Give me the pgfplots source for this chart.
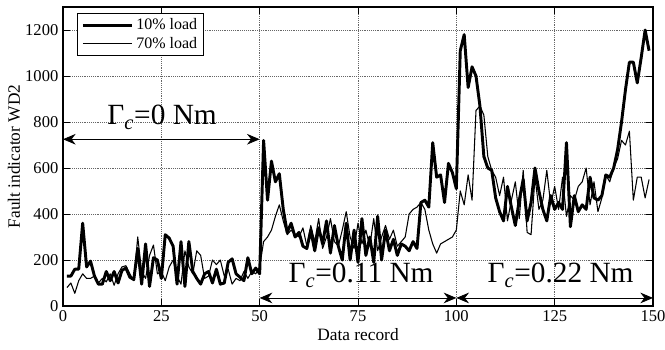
\documentclass[border=0pt]{standalone}
\usepackage{fontspec}
\setmainfont{Liberation Serif}
\usepackage{pgfplots}
\pgfplotsset{compat=1.18}
\usetikzlibrary{arrows.meta}
\begin{document}
\begin{tikzpicture}
\useasboundingbox (-47.25pt,-33pt) rectangle (451.5pt,229.5pt);
\begin{axis}[
 scale only axis, width=442.5pt, height=224.25pt,
 xmin=0,xmax=150,ymin=0,ymax=1300,
 xtick={0,25,...,150}, ytick={0,200,...,1200},
 grid=major, grid style={densely dotted, line width=0.5pt, black!60},
 axis line style={line width=0.8pt},
 tick style={black, line width=0.6pt},
 major tick length=5pt,
 ticklabel style={font=\fontsize{12.4}{14}\selectfont},
 /pgf/number format/assume math mode=true,
 /pgf/number format/1000 sep={},
 label style={font=\fontsize{13}{15}\selectfont},
 xlabel={Data record}, ylabel={Fault indicator WD2},
 xlabel style={at={(axis description cs:0.5,-0.097)}, anchor=center},
 ylabel style={at={(axis description cs:-0.083,0.5)}, anchor=center},
 legend style={at={(axis description cs:0,1)}, anchor=north west, xshift=10.5pt, yshift=-4.5pt,
   font=\fontsize{12}{13}\selectfont, draw=black, line width=0.6pt, inner xsep=3pt, inner ysep=2pt, row sep=0pt,
   cells={anchor=west}, fill=white},
 legend image code/.code={\draw[#1] (0pt,0pt) -- (37pt,0pt);},
]
\addplot[black, line width=2.2pt, line join=round] coordinates {
(1,130)(2,130)(3,160)(4,160)(5,360)(6,170)(7,195)(8,130)(9,95)(10,95)
(11,150)(12,110)(13,150)(14,100)(15,155)(16,165)(17,125)(18,115)(19,250)(20,95)
(21,270)(22,85)(23,210)(24,200)(25,120)(26,310)(27,295)(28,260)(29,95)(30,280)
(31,85)(32,280)(33,150)(34,120)(35,95)(36,140)(37,150)(38,100)(39,160)(40,95)
(41,100)(42,190)(43,205)(44,140)(45,125)(46,110)(47,210)(48,140)(49,165)(50,140)
(51,720)(52,460)(53,630)(54,540)(55,575)(56,420)(57,320)(58,360)(59,300)(60,320)
(61,260)(62,250)(63,330)(64,240)(65,340)(66,270)(67,370)(68,230)(69,350)(70,260)
(71,200)(72,360)(73,200)(74,330)(75,190)(76,380)(77,220)(78,300)(79,190)(80,390)
(81,200)(82,330)(83,240)(84,290)(85,220)(86,270)(87,260)(88,240)(89,280)(90,250)
(91,450)(92,460)(93,430)(94,710)(95,560)(96,570)(97,450)(98,620)(99,580)(100,510)
(101,1110)(102,1180)(103,950)(104,1040)(105,1000)(106,870)(107,650)(108,600)(109,590)(110,470)
(111,410)(112,370)(113,520)(114,430)(115,350)(116,460)(117,550)(118,370)(119,450)(120,600)
(121,500)(122,420)(123,370)(124,480)(125,420)(126,450)(127,420)(128,710)(129,345)(130,480)
(131,410)(132,440)(133,420)(134,560)(135,470)(136,460)(137,480)(138,570)(139,560)(140,600)
(141,680)(142,800)(143,940)(144,1060)(145,1060)(146,970)(147,1080)(148,1200)(149,1110)
};
\addlegendentry{10\% load}
\addplot[black, line width=0.8pt, line join=round] coordinates {
(1,80)(2,100)(3,55)(4,110)(5,140)(6,120)(7,120)(8,130)(9,100)(10,120)
(11,105)(12,140)(13,90)(14,140)(15,170)(16,175)(17,140)(18,110)(19,300)(20,150)
(21,120)(22,220)(23,265)(24,140)(25,150)(26,110)(27,170)(28,200)(29,130)(30,95)
(31,240)(32,170)(33,140)(34,240)(35,220)(36,120)(37,130)(38,200)(39,180)(40,200)
(41,130)(42,160)(43,95)(44,120)(45,110)(46,150)(47,120)(48,150)(49,140)(50,170)
(51,280)(52,300)(53,330)(54,390)(55,440)(56,370)(57,310)(58,330)(59,310)(60,300)
(61,340)(62,260)(63,350)(64,280)(65,380)(66,250)(67,300)(68,380)(69,280)(70,260)
(71,330)(72,410)(73,300)(74,250)(75,360)(76,270)(77,330)(78,260)(79,380)(80,240)
(81,300)(82,350)(83,290)(84,330)(85,260)(86,280)(87,300)(88,400)(89,420)(90,430)
(91,450)(92,420)(93,330)(94,270)(95,230)(96,270)(97,280)(98,290)(99,300)(100,330)
(101,500)(102,440)(103,570)(104,460)(105,850)(106,870)(107,830)(108,650)(109,590)(110,560)
(111,480)(112,560)(113,370)(114,460)(115,540)(116,380)(117,590)(118,320)(119,310)(120,560)
(121,420)(122,460)(123,590)(124,440)(125,520)(126,420)(127,560)(128,390)(129,480)(130,460)
(131,520)(132,540)(133,600)(134,440)(135,540)(136,410)(137,470)(138,570)(139,540)(140,600)
(141,640)(142,720)(143,700)(144,760)(145,460)(146,560)(147,560)(148,470)(149,550)
};
\addlegendentry{70\% load}
\draw[{Stealth[length=9.5pt,width=8pt]}-{Stealth[length=9.5pt,width=8pt]}, line width=0.6pt] (axis cs:0,725) -- (axis cs:50,725);
\draw[{Stealth[length=9.5pt,width=8pt]}-{Stealth[length=9.5pt,width=8pt]}, line width=0.6pt] (axis cs:50,35) -- (axis cs:100,35);
\draw[{Stealth[length=9.5pt,width=8pt]}-{Stealth[length=9.5pt,width=8pt]}, line width=0.6pt] (axis cs:100,35) -- (axis cs:150,35);
\node[anchor=base, font=\fontsize{22}{24}\selectfont] at (axis cs:25.2,787) {Γ\textsubscript{\itshape c}=0 Nm};
\node[anchor=base, font=\fontsize{22}{24}\selectfont] at (axis cs:75.8,100) {Γ\textsubscript{\itshape c}=0.11 Nm};
\node[anchor=base, font=\fontsize{22}{24}\selectfont] at (axis cs:126.5,100) {Γ\textsubscript{\itshape c}=0.22 Nm};
\end{axis}
\end{tikzpicture}
\end{document}
